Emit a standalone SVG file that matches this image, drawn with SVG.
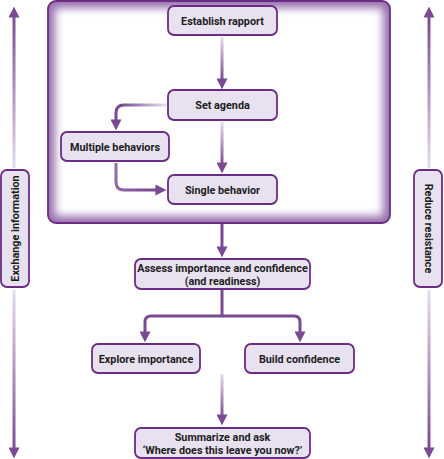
<svg xmlns="http://www.w3.org/2000/svg" width="444" height="459" viewBox="0 0 444 459">
<style>
.box{fill:#e8e1f0;stroke:#6b2d83;stroke-width:1.8}
.t{font-family:Roboto,"Liberation Sans",Arial,sans-serif;font-weight:bold;font-size:10.8px;fill:#1c1c1c;text-anchor:middle}
.c{fill:none;stroke-width:3;stroke-linejoin:round}
.solid{stroke:#7a4a93}
</style>
<defs>
<marker id="ah" viewBox="0 0 10 10" refX="6" refY="5" markerWidth="11" markerHeight="11" markerUnits="userSpaceOnUse" orient="auto">
<path d="M0,0 L10,5 L0,10 z" fill="#7a4a93"/>
</marker>
<filter id="blur" x="-20%" y="-20%" width="140%" height="140%"><feGaussianBlur stdDeviation="4.5"/></filter>
<clipPath id="fc"><rect x="48" y="1" width="342" height="222" rx="8"/></clipPath>
<linearGradient id="gv1" gradientUnits="userSpaceOnUse" x1="0" y1="37" x2="0" y2="80"><stop offset="0" stop-color="#e6dcee"/><stop offset="1" stop-color="#7a4a93"/></linearGradient>
<linearGradient id="gv2" gradientUnits="userSpaceOnUse" x1="0" y1="122" x2="0" y2="165"><stop offset="0" stop-color="#e6dcee"/><stop offset="1" stop-color="#7a4a93"/></linearGradient>
<linearGradient id="gv3" gradientUnits="userSpaceOnUse" x1="0" y1="374" x2="0" y2="418"><stop offset="0" stop-color="#e6dcee"/><stop offset="1" stop-color="#7a4a93"/></linearGradient>
<linearGradient id="gh1" gradientUnits="userSpaceOnUse" x1="167" y1="0" x2="122" y2="0"><stop offset="0" stop-color="#ece4f2"/><stop offset="1" stop-color="#7a4a93"/></linearGradient>
<linearGradient id="gm" gradientUnits="userSpaceOnUse" x1="0" y1="163" x2="150" y2="195"><stop offset="0" stop-color="#d8c8e3"/><stop offset="1" stop-color="#7a4a93"/></linearGradient>
<linearGradient id="gup" gradientUnits="userSpaceOnUse" x1="0" y1="168" x2="0" y2="15"><stop offset="0" stop-color="#e6dcee"/><stop offset="1" stop-color="#7a4a93"/></linearGradient>
<linearGradient id="gdn" gradientUnits="userSpaceOnUse" x1="0" y1="290" x2="0" y2="450"><stop offset="0" stop-color="#e6dcee"/><stop offset="1" stop-color="#7a4a93"/></linearGradient>
</defs>

<g id="frame">
<rect x="48" y="1" width="342" height="222" rx="8" fill="#9670ad"/>
<g clip-path="url(#fc)"><rect x="55" y="8" width="328" height="208" fill="#ffffff" filter="url(#blur)"/></g>
<rect x="48" y="1" width="342" height="222" rx="8" fill="none" stroke="#6b2d83" stroke-width="1.8"/>
</g>

<g id="connectors">
<path class="c" d="M222,37 V85" stroke="url(#gv1)" marker-end="url(#ah)"/>
<path class="c" d="M222,122 V169" stroke="url(#gv2)" marker-end="url(#ah)"/>
<path class="c" d="M167,105 H124 Q116,105 116,113 V126" stroke="url(#gh1)" stroke-width="4" marker-end="url(#ah)"/>
<path class="c" d="M116,163 V182 Q116,190 124,190 H162" stroke="url(#gm)" stroke-width="4" marker-end="url(#ah)"/>
<path class="c solid" d="M222,224 V253" marker-end="url(#ah)"/>
<path class="c solid" d="M222,290 V316 H151 Q145,316 145,322 V338" stroke-width="4" marker-end="url(#ah)"/>
<path class="c solid" d="M222,316 H294 Q300,316 300,322 V338" stroke-width="4" marker-end="url(#ah)"/>
<path class="c" d="M222,374 V421" stroke="url(#gv3)" marker-end="url(#ah)"/>
<path class="c" d="M14,168 V11" stroke="url(#gup)" marker-end="url(#ah)"/>
<path class="c" d="M14,290 V454" stroke="url(#gdn)" marker-end="url(#ah)"/>
<path class="c" d="M429,168 V11" stroke="url(#gup)" marker-end="url(#ah)"/>
<path class="c" d="M429,290 V454" stroke="url(#gdn)" marker-end="url(#ah)"/>
</g>

<g id="establish-rapport">
<rect class="box" x="168" y="6" width="109" height="29" rx="6"/>
<text class="t" x="222.5" y="24.5">Establish rapport</text>
</g>
<g id="set-agenda">
<rect class="box" x="168" y="90" width="109" height="30" rx="6"/>
<text class="t" x="222.5" y="109">Set agenda</text>
</g>
<g id="multiple-behaviors">
<rect class="box" x="61" y="132" width="108" height="29" rx="6"/>
<text class="t" x="115" y="150.5">Multiple behaviors</text>
</g>
<g id="single-behavior">
<rect class="box" x="168" y="175" width="109" height="29" rx="6"/>
<text class="t" x="222.5" y="193.5">Single behavior</text>
</g>
<g id="assess">
<rect class="box" x="135" y="259" width="175" height="30" rx="6"/>
<text class="t" x="222.5" y="271.5">Assess importance and confidence</text>
<text class="t" x="222.5" y="284.5">(and readiness)</text>
</g>
<g id="explore-importance">
<rect class="box" x="92" y="344" width="108" height="29" rx="6"/>
<text class="t" x="146" y="362.5">Explore importance</text>
</g>
<g id="build-confidence">
<rect class="box" x="245" y="344" width="109" height="29" rx="6"/>
<text class="t" x="299.5" y="362.5">Build confidence</text>
</g>
<g id="summarize">
<rect class="box" x="135" y="428" width="175" height="30" rx="6"/>
<text class="t" x="222.5" y="440.5">Summarize and ask</text>
<text class="t" x="222.5" y="453.5">‘Where does this leave you now?’</text>
</g>
<g id="exchange-information">
<rect class="box" x="1" y="170" width="28" height="117" rx="6"/>
<text class="t" transform="translate(18.8,228.5) rotate(-90)">Exchange information</text>
</g>
<g id="reduce-resistance">
<rect class="box" x="414" y="170" width="28" height="117" rx="6"/>
<text class="t" transform="translate(424.5,228.5) rotate(90)">Reduce resistance</text>
</g>
</svg>
